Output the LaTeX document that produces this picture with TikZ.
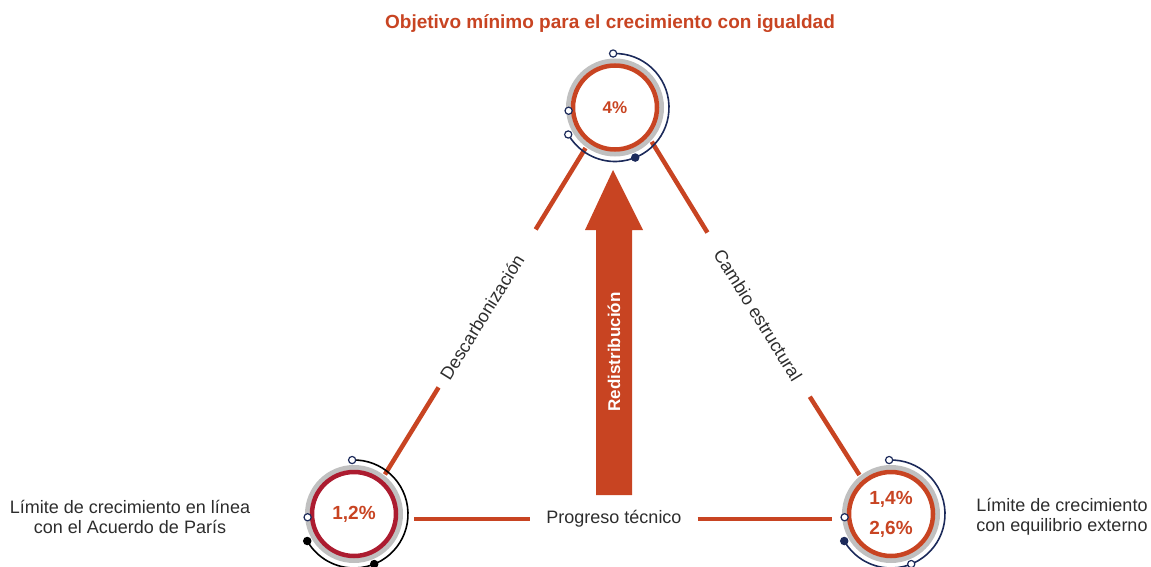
\documentclass[tikz,border=0pt]{standalone}
\usepackage{fontspec}
\setmainfont{Liberation Sans}
\usetikzlibrary{arrows.meta,positioning,calc}
\definecolor{accent}{RGB}{200,68,34}
\definecolor{crimson}{RGB}{172,28,48}
\definecolor{navy}{RGB}{28,42,90}
\definecolor{ringgray}{RGB}{192,192,192}
\definecolor{txt}{RGB}{45,45,45}

\begin{document}
\begin{tikzpicture}[x=1pt,y=1pt,
  hub/.style={circle,minimum size=100pt,inner sep=0pt,text=accent,align=center,font=\bfseries\fontsize{19}{30}\selectfont},
  edge/.style={accent,line width=4.5pt},
  lbl/.style={text=txt,inner ysep=0pt,font=\fontsize{18}{20}\selectfont},
  dot/.style={line width=1.2pt}]
 \useasboundingbox (0,0) rectangle (1151,566);

 % ---- title ----
 \node[anchor=base,text=accent,font=\bfseries\fontsize{19}{22}\selectfont] (title) at (610,537) {Objetivo mínimo para el crecimiento con igualdad};

 % ---- hubs ----
 \node[hub,font=\bfseries\fontsize{17}{20}\selectfont] (meta) at (615,458.5) {4\%};
 \node[hub] (paris) at (354,52) {1,2\%};
 \node[hub] (externo) at (891,52) {1,4\%\\2,6\%};

 % ---- side labels ----
 \node[lbl,align=center] (limparis) at (130,49.5) {Límite de crecimiento en línea\\con el Acuerdo de París};
 \node[lbl,align=center] (limext) at (1062,49.5) {Límite de crecimiento\\con equilibrio externo};

 % ---- edges of the triangle ----
 \node[lbl,rotate=58.3,inner xsep=11pt] (desc) at (482,249) {Descarbonización};
 \node[lbl,rotate=-58.3,inner xsep=21pt] (cambio) at (758,251) {Cambio estructural};
 \node[lbl,inner xsep=16pt] (prog) at (614,47) {Progreso técnico};
 \draw[edge] (paris.52) -- (desc);
 \draw[edge,shorten <=20pt] (desc) -- (meta.234);
 \draw[edge] (meta.-43) -- (cambio);
 \draw[edge] (cambio) -- (externo.129);
 \draw[edge,shorten <=10pt] (paris.east |- prog.west) -- (prog.west);
 \draw[edge,shorten >=9pt] (prog.east) -- (externo.west |- prog.east);

 % ---- rings, arcs and dots ----
 \foreach \hb/\rcol/\acol/\mfill/\efill in {meta/accent/navy/navy/white,paris/crimson/black/black/black,externo/accent/navy/white/navy}{
   \draw[ringgray,line width=5pt] (\hb.center) circle (46.5);
   \draw[\rcol,line width=4.5pt] (\hb.center) circle (42);
   \draw[\acol,line width=1.6pt] (\hb.center) ++(92:54) arc[start angle=92,end angle=-150,radius=54];
   \filldraw[dot,draw=navy,fill=white] (\hb.center) ++(92:54) circle (3.6);
   \filldraw[dot,draw=navy,fill=white] (\hb.center) ++(184:46.5) circle (3.6);
   \filldraw[dot,draw=\acol,fill=\mfill] (\hb.center) ++(-68:54) circle (3.6);
   \filldraw[dot,draw=\acol,fill=\efill] (\hb.center) ++(-150:54) circle (3.6);
 }

 % ---- redistribution arrow ----
 \fill[accent] (613,396) -- (643,336) -- (632,336) -- (632,71) -- (596,71) -- (596,336) -- (585,336) -- cycle;
 \node[rotate=90,text=white,font=\bfseries\fontsize{17}{20}\selectfont] (redis) at (614,214) {Redistribución};
\end{tikzpicture}
\end{document}
